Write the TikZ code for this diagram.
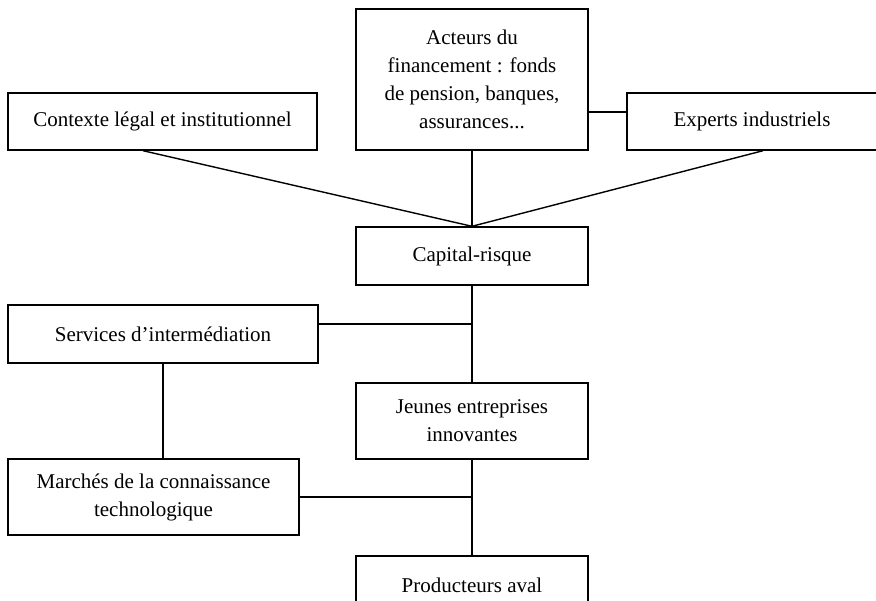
\documentclass[tikz,border=0pt]{standalone}
\usepackage{fontspec}
\setmainfont{Liberation Serif}
\usepackage{tikz}
\usetikzlibrary{positioning}
\usetikzlibrary{calc}

\begin{document}
\begin{tikzpicture}[
    x=0.5pt, y=-0.5pt,
    box/.style={draw, line width=0.7pt, align=center, inner sep=0pt,
        font=\fontsize{10.5}{14}\selectfont},
    link/.style={line width=0.7pt}
]
    \useasboundingbox (0,0) rectangle (876,600);

    % Top row: environment of venture capital
    \node[box, minimum width=116pt, minimum height=70.5pt] (fin) at (472,79.5)
        {Acteurs du\\financement : fonds\\de pension, banques,\\assurances...};
    \node[box, minimum width=154.5pt, minimum height=28.5pt] (legal) at (162.5,121.5)
        {Contexte l\'egal et institutionnel};
    \node[box, minimum width=125pt, minimum height=28.5pt] (experts) at (752,121.5)
        {Experts industriels};

    % Central column
    \node[box, minimum width=116pt, minimum height=29pt] (vc) at (472,256)
        {Capital-risque};
    \node[box, minimum width=116pt, minimum height=38pt] (startups) at (472,421)
        {Jeunes entreprises\\innovantes};
    \node[box, minimum width=116pt, minimum height=29pt] (aval) at (472,585)
        {Producteurs aval};

    % Left column
    \node[box, minimum width=155pt, minimum height=29pt] (services) at (163,334)
        {Services d'interm\'ediation};
    \node[box, minimum width=145.5pt, minimum height=38pt] (markets) at (153.5,497)
        {March\'es de la connaissance\\technologique};

    % Attachment points
    \coordinate (finright) at ([yshift=-16.25pt]fin.east);
    \coordinate (servright) at ([yshift=5pt]services.east);

    % Connections
    \draw[link] ([xshift=-9.75pt]legal.south) -- (vc.north);
    \draw[link] ([xshift=5.5pt]experts.south) -- (vc.north);
    \draw[link] (fin.south) -- (vc.north);
    \draw[link] (finright) -- (experts.west |- finright);
    \draw[link] (vc.south) -- (startups.north);
    \draw[link] (servright) -- (vc.south |- servright);
    \draw[link] (services.south) -- (services.south |- markets.north);
    \draw[link] (startups.south) -- (aval.north);
    \draw[link] (markets.east) -- (markets.east -| startups.south);
\end{tikzpicture}
\end{document}
